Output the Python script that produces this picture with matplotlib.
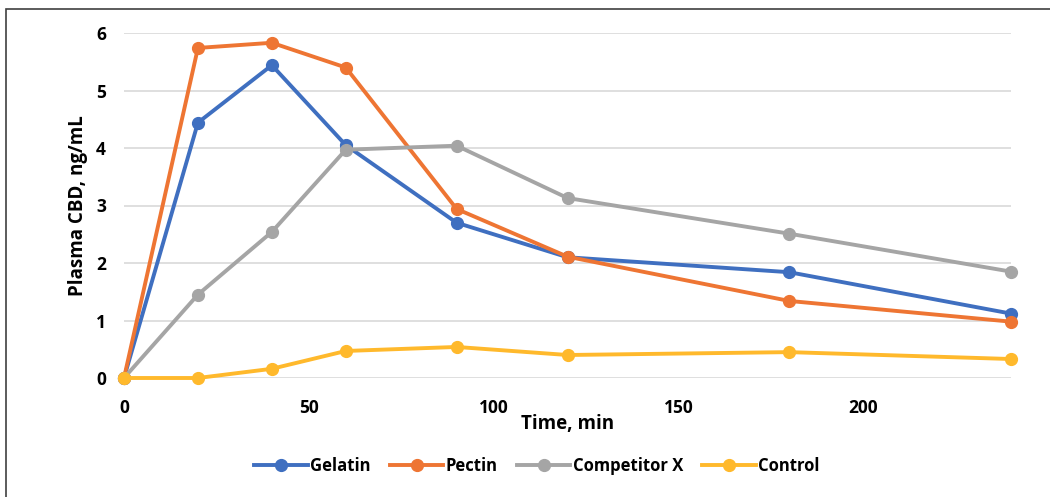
import matplotlib.pyplot as plt
from matplotlib.patches import Rectangle

plt.rcParams['font.family'] = ['Open Sans', 'DejaVu Sans']
plt.rcParams['font.weight'] = 'bold'

# sampling times (min) and plasma levels (ng/mL)
times = [0, 20, 40, 60, 90, 120, 180, 240]
gelatin = [0, 4.44, 5.44, 4.05, 2.70, 2.10, 1.84, 1.12]
pectin = [0, 5.74, 5.83, 5.40, 2.94, 2.11, 1.34, 0.98]
competitor = [0, 1.45, 2.54, 3.97, 4.04, 3.13, 2.51, 1.85]
control = [0, 0, 0.16, 0.47, 0.54, 0.40, 0.45, 0.33]

series = [
    ("Gelatin", gelatin, "#3f6fc0"),
    ("Pectin", pectin, "#ee7533"),
    ("Competitor X", competitor, "#a5a5a5"),
    ("Control", control, "#ffb92c"),
]

fig = plt.figure(figsize=(10.5, 4.97), dpi=100)
ax = fig.add_axes([124/1050, 1 - 378/497, (1011 - 124)/1050, (378 - 33)/497])

for name, vals, col in series:
    ax.plot(times, vals, color=col, lw=2.8, marker="o", ms=8.5, label=name,
            solid_joinstyle="round", clip_on=False)

ax.set_xlim(0, 240)
ax.set_ylim(0, 6)
ax.set_xticks([0, 50, 100, 150, 200])
ax.set_yticks(range(0, 7))
ax.grid(axis="y", color="#d9d9d9", lw=1.2)
ax.set_axisbelow(True)
for s in ax.spines.values():
    s.set_visible(False)
ax.tick_params(axis="x", length=0, labelsize=12.5, pad=15)
ax.tick_params(axis="y", length=0, labelsize=12.5, pad=13)
for lab in ax.get_xticklabels() + ax.get_yticklabels():
    lab.set_fontweight("bold")

ax.set_xlabel("Time, min", fontsize=13.5, fontweight="bold", labelpad=-2)
ax.set_ylabel("Plasma CBD, ng/mL", fontsize=13.5, fontweight="bold", labelpad=6)

leg = fig.legend(loc="center", bbox_to_anchor=(537/1050, 1 - 466/497), ncol=4,
                 frameon=False, handlelength=3.2, columnspacing=1.15,
                 handletextpad=0.15, prop={"weight": "bold", "size": 12})

# outer frame of the chart
fig.patches.append(Rectangle((6/1050, -0.02), 1.05, 1 - 9/497 + 0.02,
                             transform=fig.transFigure, fill=False,
                             edgecolor="#404040", lw=1.2))

fig.savefig("out.png", dpi=100)
